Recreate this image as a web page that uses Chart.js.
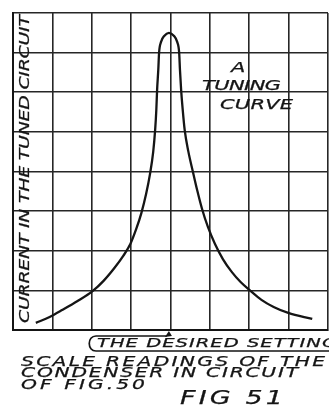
<!DOCTYPE html>
<html>
<head>
<meta charset="utf-8">
<script src="https://cdn.jsdelivr.net/npm/chart.js@4/dist/chart.umd.min.js"></script>
<style>
  html, body { margin: 0; padding: 0; background: #fff; }
  canvas { display: block; }
</style>
</head>
<body>
<canvas id="grafica" width="329" height="410"></canvas>
<script>
// lecturas de la escala del condensador (x) y corriente en el circuito (y)
const scaleReadings = [
    0.58, 0.93, 1.26, 1.64, 2.02, 2.30, 2.58, 2.80, 2.98, 3.13, 3.26, 3.38, 3.48, 3.56, 3.61, 3.64, 3.66, 3.69, 3.71, 3.76, 3.84,
    3.96,
    4.09, 4.17, 4.22, 4.24, 4.27, 4.31, 4.36, 4.45, 4.57, 4.68, 4.80, 4.95, 5.13, 5.33, 5.56, 5.78, 6.04, 6.31, 6.62, 6.99, 7.60
]
const currentValues = [
    0.18, 0.33, 0.51, 0.73, 0.98, 1.24, 1.57, 1.87, 2.17, 2.55, 2.95, 3.43, 3.94, 4.49, 5.05, 5.56, 6.06, 6.57, 7.00, 7.27, 7.42,
    7.50,
    7.42, 7.27, 7.00, 6.57, 6.06, 5.56, 5.05, 4.52, 3.99, 3.52, 3.06, 2.60, 2.17, 1.79, 1.46, 1.21, 0.98, 0.76, 0.58, 0.43, 0.28
]
const gridSteps = [0, 8]   // min / max de ambos ejes, un cuadro por unidad
const desiredSetting = 3.96

const yLabel = "CURRENT IN THE TUNED CIRCUIT"
const noteLines = ["A", "TUNING", "CURVE"]
const settingLabel = "THE DESIRED SETTING"
const captionLines = ["SCALE READINGS OF THE", "CONDENSER IN CIRCUIT", "OF FIG.50"]
const figLabel = "FIG 51"

const INK = '#151515'

// dibuja texto "rotulado" repartiendo letras en un ancho dado
function lettering(ctx, text, x, y, width, size, sx = 1.5) {
    ctx.save()
    ctx.font = `oblique ${size}px "DejaVu Sans"`
    ctx.textBaseline = 'middle'
    ctx.textAlign = 'left'
    ctx.fillStyle = INK
    ctx.strokeStyle = INK
    ctx.lineWidth = 0.25
    const chars = [...text]
    const widths = chars.map(c => ctx.measureText(c).width * sx)
    const natural = widths.reduce((a, b) => a + b, 0)
    const gap = chars.length > 1 ? (width - natural) / (chars.length - 1) : 0
    let cx = x
    chars.forEach((c, i) => {
        ctx.save()
        ctx.translate(cx, y)
        ctx.scale(sx, 1)
        ctx.fillText(c, 0, 0)
        ctx.strokeText(c, 0, 0)
        ctx.restore()
        cx += widths[i] + gap
    })
    ctx.restore()
}

const annotations = {
    id: 'annotations',
    afterDraw(chart) {
        const ctx = chart.ctx
        const x = chart.scales.x

        // eje vertical
        ctx.save()
        ctx.translate(25, 323)
        ctx.rotate(-Math.PI / 2)
        lettering(ctx, yLabel, 0, 0, 308, 14, 1.35)
        ctx.restore()

        // A TUNING CURVE
        lettering(ctx, noteLines[0], 231, 68, 12, 14)
        lettering(ctx, noteLines[1], 202, 86, 79, 14)
        lettering(ctx, noteLines[2], 220, 105, 73, 14)

        // llave que apunta al ajuste deseado
        const px = x.getPixelForValue(desiredSetting)
        ctx.save()
        ctx.strokeStyle = INK
        ctx.lineWidth = 1.7
        ctx.beginPath()
        ctx.moveTo(px - 2, 336)
        ctx.lineTo(96, 336)
        ctx.bezierCurveTo(87, 336, 87, 351, 96, 351)
        ctx.lineTo(329, 351)
        ctx.stroke()
        ctx.fillStyle = INK
        ctx.beginPath()
        ctx.moveTo(px, 331)
        ctx.lineTo(px - 4, 337)
        ctx.lineTo(px + 3, 336)
        ctx.closePath()
        ctx.fill()
        ctx.restore()

        lettering(ctx, settingLabel, 97, 344, 240, 13)

        lettering(ctx, captionLines[0], 21, 362, 304, 13.5)
        lettering(ctx, captionLines[1], 21, 373, 277, 13.5)
        lettering(ctx, captionLines[2], 21, 385, 124, 13.5)

        lettering(ctx, figLabel, 180, 399, 103, 20, 1.35)
    }
}

const ctx = document.getElementById('grafica').getContext('2d')

const axis = {
    type: 'linear',
    min: gridSteps[0],
    max: gridSteps[1],
    ticks: { display: false, stepSize: 1 },
    grid: { color: '#262626', lineWidth: 1.6, drawTicks: false },
    border: { display: true, color: INK, width: 2 }
}

new Chart(ctx, {
    type: 'scatter',
    data: {
        datasets: [{
            data: scaleReadings.map((v, i) => ({ x: v, y: currentValues[i] })),
            showLine: true,
            borderColor: INK,
            borderWidth: 2.3,
            pointRadius: 0,
            cubicInterpolationMode: 'monotone',
            fill: false
        }]
    },
    options: {
        responsive: false,
        animation: false,
        devicePixelRatio: 1,
        layout: { padding: { left: 13, top: 13, right: 1, bottom: 80 } },
        plugins: {
            legend: { display: false },
            tooltip: { enabled: false }
        },
        scales: { x: axis, y: { ...axis } }
    },
    plugins: [annotations]
})
</script>
</body>
</html>
